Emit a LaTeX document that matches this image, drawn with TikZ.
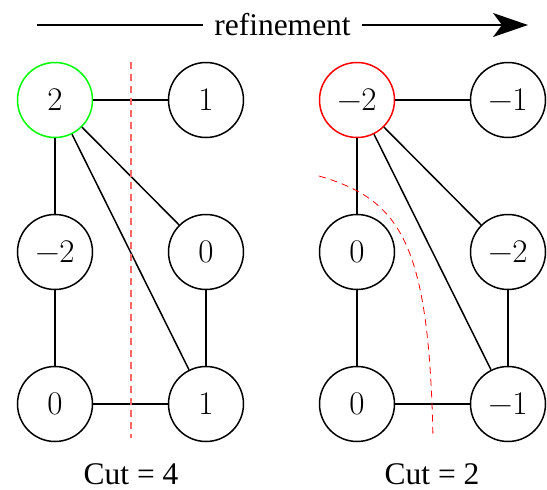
\documentclass[tikz,border=0pt]{standalone}
\usepackage{fontspec}
\newfontfamily\timesfont{Liberation Serif}
\usetikzlibrary{arrows.meta}
\tikzset{
  vertex/.style={circle, draw, line width=1.5pt, minimum size=75pt, inner sep=0pt,
    font=\fontsize{33}{38}\selectfont},
  edge/.style={line width=1.5pt},
  cutline/.style={draw=red, dash pattern=on 7pt off 5pt, line width=0.8pt},
  caption/.style={inner sep=0pt, font=\timesfont\fontsize{31.5}{38}\selectfont}
}
\begin{document}
\begin{tikzpicture}[x=1pt, y=-1pt]
  \useasboundingbox (0,0) rectangle (547,490);

  % direction of refinement
  \coordinate (arrL) at (37,25);
  \coordinate (arrR) at (528,25);
  \draw[line width=1.5pt, -{Stealth[length=35pt, width=24pt, inset=9pt]}]
    (arrL) -- node[caption, fill=white, inner xsep=11pt, inner ysep=3pt] (reftext) {refinement} (arrR);

  % graph before refinement
  \node[vertex, draw=green] (a1) at (55,100) {2};
  \node[vertex] (b1) at (206,100) {1};
  \node[vertex] (c1) at (55,252) {−2};
  \node[vertex] (d1) at (206,252) {0};
  \node[vertex] (e1) at (55,404) {0};
  \node[vertex] (f1) at (206,404) {1};
  \draw[edge] (a1) -- (b1);
  \draw[edge] (a1) -- (c1);
  \draw[edge] (a1) -- (d1);
  \draw[edge] (a1) -- (f1);
  \draw[edge] (c1) -- (e1);
  \draw[edge] (d1) -- (f1);
  \draw[edge] (e1) -- (f1);
  \coordinate (cutAtop) at (131,62);
  \coordinate (cutAbot) at (131,438);
  \draw[cutline, draw=red!60, line width=1.1pt] (cutAtop) -- (cutAbot);
  \node[caption] (capA) at (131,474) {Cut = 4};

  % graph after refinement
  \node[vertex, draw=red] (a2) at (357,100) {−2};
  \node[vertex] (b2) at (508,100) {−1};
  \node[vertex] (c2) at (357,252) {0};
  \node[vertex] (d2) at (508,252) {−2};
  \node[vertex] (e2) at (357,404) {0};
  \node[vertex] (f2) at (508,404) {−1};
  \draw[edge] (a2) -- (b2);
  \draw[edge] (a2) -- (c2);
  \draw[edge] (a2) -- (d2);
  \draw[edge] (a2) -- (f2);
  \draw[edge] (c2) -- (e2);
  \draw[edge] (d2) -- (f2);
  \draw[edge] (e2) -- (f2);
  \coordinate (cutBtop) at (319,176);
  \coordinate (cutBbot) at (433,438);
  \draw[cutline] (cutBtop) .. controls (402,200) and (429,245) .. (cutBbot);
  \node[caption] (capB) at (432,474) {Cut = 2};
\end{tikzpicture}
\end{document}
